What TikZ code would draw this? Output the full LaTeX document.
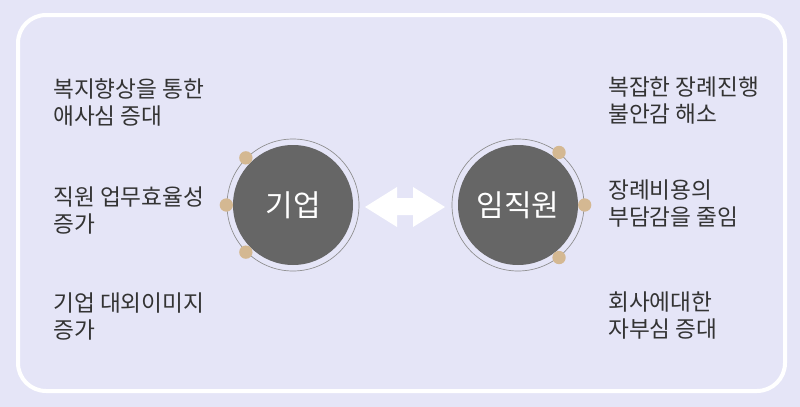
\documentclass[tikz,border=0pt]{standalone}
\usepackage{fontspec}
\setmainfont{Noto Sans CJK KR}
\usepackage{tikz}
\definecolor{pagebg}{RGB}{229, 229, 247}
\definecolor{bodytext}{RGB}{51, 51, 51}
\definecolor{discgray}{RGB}{102, 102, 102}
\definecolor{dottan}{RGB}{212, 184, 146}

\begin{document}
\begin{tikzpicture}[x=0.75pt, y=-0.75pt,
    note/.style={anchor=west, align=left, text=bodytext, inner sep=0pt,
                 font=\fontsize{17}{20.25}\selectfont},
    disc/.style={circle, fill=discgray, minimum size=90pt, inner sep=0pt,
                 text=white, font=\fontsize{22.5}{26}\selectfont}]
        % Page and white frame
        \fill[pagebg] (0,0) rectangle (800,407);
        \draw[white, line width=3pt, rounded corners=21pt] (18,15) rectangle (785,391);
        % The two discs
        \node[disc] (firm) at (293,205) {기업};
        \node[disc] (staff) at (518,205) {임직원};
        % Thin rings round them
        \draw[gray!90, line width=0.5pt] (firm.center) circle (49.5pt);
        \draw[gray!90, line width=0.5pt] (staff.center) circle (49.5pt);
        % Tan dots on the rings
        \foreach \a in {135, 180, 225}{
          \fill[dottan, shift={(firm.center)}] (\a:50pt) circle (5pt);
        }
        \foreach \a in {52, 0, -52}{
          \fill[dottan, shift={(staff.center)}] (\a:50pt) circle (5pt);
        }
        % Block arrow between the discs
        \fill[white]
          (365,207) -- (397,187) -- (397,198) -- (413,198) -- (413,187)
          -- (445,207) -- (413,227) -- (413,215) -- (397,215) -- (397,227) -- cycle;
        % Notes on the firm side
        \node[note] (gain1) at (53,102) {복지향상을 통한\\애사심 증대};
        \node[note] (gain2) at (53,210) {직원 업무효율성\\증가};
        \node[note] (gain3) at (53,316) {기업 대외이미지\\증가};
        % Notes on the staff side
        \node[note] (ease1) at (608,101) {복잡한 장례진행\\불안감 해소};
        \node[note] (ease2) at (608,204) {장례비용의\\부담감을 줄임};
        \node[note] (ease3) at (608,316) {회사에대한\\자부심 증대};
      \end{tikzpicture}
\end{document}
